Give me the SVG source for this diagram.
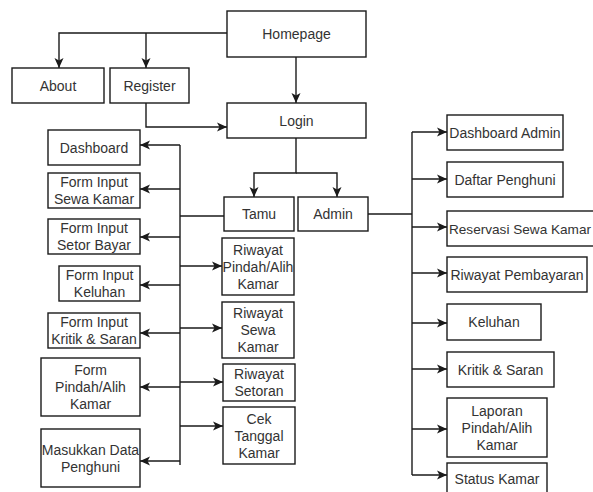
<svg xmlns="http://www.w3.org/2000/svg" width="593" height="492" viewBox="0 0 593 492">
<defs>
<marker id="arr" markerUnits="userSpaceOnUse" markerWidth="12" markerHeight="12" viewBox="0 0 12 12" refX="11" refY="6" orient="auto">
<path d="M1,1.5 L11,6 L1,10.5 L3.5,6 Z" fill="#1a1a1a"/>
</marker>
</defs>
<style>
.box{fill:#fff;stroke:#1a1a1a;stroke-width:1.4}
.t{font-family:"Liberation Sans",Arial,sans-serif;font-size:14px;fill:#333;text-anchor:middle}
.c{fill:none;stroke:#1a1a1a;stroke-width:1.4}
.a{marker-end:url(#arr)}
</style>
<rect width="593" height="492" fill="#fff"/>
<g id="connectors">
<path class="c a" d="M227,33 H59 V68"/>
<path class="c a" d="M146,33 V68"/>
<path class="c a" d="M296,57 V103"/>
<path class="c a" d="M146,103 V127 H227"/>
<path class="c a" d="M296,138 V173 H254 V197"/>
<path class="c a" d="M296,173 H337 V197"/>
<path class="c" d="M224,216 H180"/>
<path class="c" d="M180,145 V465"/>
<path class="c a" d="M180,145 H140"/>
<path class="c a" d="M180,189 H140"/>
<path class="c a" d="M180,237 H140"/>
<path class="c a" d="M180,285 H140"/>
<path class="c a" d="M180,333 H140"/>
<path class="c a" d="M180,387 H140"/>
<path class="c a" d="M180,461 H140"/>
<path class="c a" d="M180,266 H222"/>
<path class="c a" d="M180,328 H222"/>
<path class="c a" d="M180,382 H223"/>
<path class="c a" d="M180,426 H223"/>
<path class="c" d="M368,214 H412"/>
<path class="c" d="M412,132 V475"/>
<path class="c a" d="M412,132 H447"/>
<path class="c a" d="M412,179 H447"/>
<path class="c a" d="M412,227 H447"/>
<path class="c a" d="M412,273 H447"/>
<path class="c a" d="M412,323 H447"/>
<path class="c a" d="M412,369 H447"/>
<path class="c a" d="M412,429 H447"/>
<path class="c a" d="M412,475 H447"/>
</g>
<g id="homepage"><rect class="box" x="227" y="11" width="139" height="46"/><text class="t" x="296.5" y="39">Homepage</text></g>
<g id="about"><rect class="box" x="12" y="68" width="92" height="35"/><text class="t" x="58" y="90.5">About</text></g>
<g id="register"><rect class="box" x="110" y="68" width="79" height="35"/><text class="t" x="149.5" y="90.5">Register</text></g>
<g id="login"><rect class="box" x="227" y="103" width="139" height="35"/><text class="t" x="296.5" y="125.5">Login</text></g>
<g id="tamu"><rect class="box" x="224" y="197" width="70" height="34"/><text class="t" x="259" y="219">Tamu</text></g>
<g id="admin"><rect class="box" x="298" y="197" width="70" height="34"/><text class="t" x="333" y="219">Admin</text></g>
<g id="dashboard"><rect class="box" x="48" y="130" width="92" height="35"/><text class="t" x="94" y="152.5">Dashboard</text></g>
<g id="form-sewa"><rect class="box" x="48" y="173" width="92" height="35"/><text class="t" x="94" y="187">Form Input</text><text class="t" x="94" y="204">Sewa Kamar</text></g>
<g id="form-setor"><rect class="box" x="48" y="219" width="92" height="35"/><text class="t" x="94" y="233">Form Input</text><text class="t" x="94" y="250">Setor Bayar</text></g>
<g id="form-keluhan"><rect class="box" x="59" y="266" width="81" height="35"/><text class="t" x="99.5" y="280">Form Input</text><text class="t" x="99.5" y="297">Keluhan</text></g>
<g id="form-kritik"><rect class="box" x="48" y="313" width="92" height="35"/><text class="t" x="94" y="327">Form Input</text><text class="t" x="94" y="344">Kritik &amp; Saran</text></g>
<g id="form-pindah"><rect class="box" x="41" y="358" width="99" height="58"/><text class="t" x="90.5" y="375">Form</text><text class="t" x="90.5" y="392">Pindah/Alih</text><text class="t" x="90.5" y="409">Kamar</text></g>
<g id="masukkan"><rect class="box" x="41" y="429" width="99" height="58"/><text class="t" x="90.5" y="455">Masukkan Data</text><text class="t" x="90.5" y="472">Penghuni</text></g>
<g id="riwayat-pindah"><rect class="box" x="222" y="238" width="72" height="57"/><text class="t" x="258" y="254.5">Riwayat</text><text class="t" x="258" y="271.5">Pindah/Alih</text><text class="t" x="258" y="288.5">Kamar</text></g>
<g id="riwayat-sewa"><rect class="box" x="222" y="302" width="72" height="56"/><text class="t" x="258" y="318">Riwayat</text><text class="t" x="258" y="335">Sewa</text><text class="t" x="258" y="352">Kamar</text></g>
<g id="riwayat-setoran"><rect class="box" x="223" y="364" width="72" height="37"/><text class="t" x="259" y="379">Riwayat</text><text class="t" x="259" y="396">Setoran</text></g>
<g id="cek-tanggal"><rect class="box" x="223" y="407" width="72" height="57"/><text class="t" x="259" y="423.5">Cek</text><text class="t" x="259" y="440.5">Tanggal</text><text class="t" x="259" y="457.5">Kamar</text></g>
<g id="dashboard-admin"><rect class="box" x="447" y="115" width="116" height="35"/><text class="t" x="505" y="137.5">Dashboard Admin</text></g>
<g id="daftar-penghuni"><rect class="box" x="447" y="162" width="116" height="35"/><text class="t" x="505" y="184.5">Daftar Penghuni</text></g>
<g id="reservasi"><rect class="box" x="447" y="211" width="150" height="35"/><text class="t" x="520" y="233.5" style="font-size:13.6px">Reservasi Sewa Kamar</text></g>
<g id="riwayat-pembayaran"><rect class="box" x="447" y="257" width="140" height="35"/><text class="t" x="517" y="279.5">Riwayat Pembayaran</text></g>
<g id="keluhan"><rect class="box" x="447" y="304" width="94" height="36"/><text class="t" x="494" y="327">Keluhan</text></g>
<g id="kritik-saran"><rect class="box" x="447" y="352" width="107" height="35"/><text class="t" x="500.5" y="374.5">Kritik &amp; Saran</text></g>
<g id="laporan"><rect class="box" x="447" y="398" width="100" height="59"/><text class="t" x="497" y="415.5">Laporan</text><text class="t" x="497" y="432.5">Pindah/Alih</text><text class="t" x="497" y="449.5">Kamar</text></g>
<g id="status-kamar"><rect class="box" x="447" y="463" width="100" height="35"/><text class="t" x="497" y="484">Status Kamar</text></g>
</svg>
